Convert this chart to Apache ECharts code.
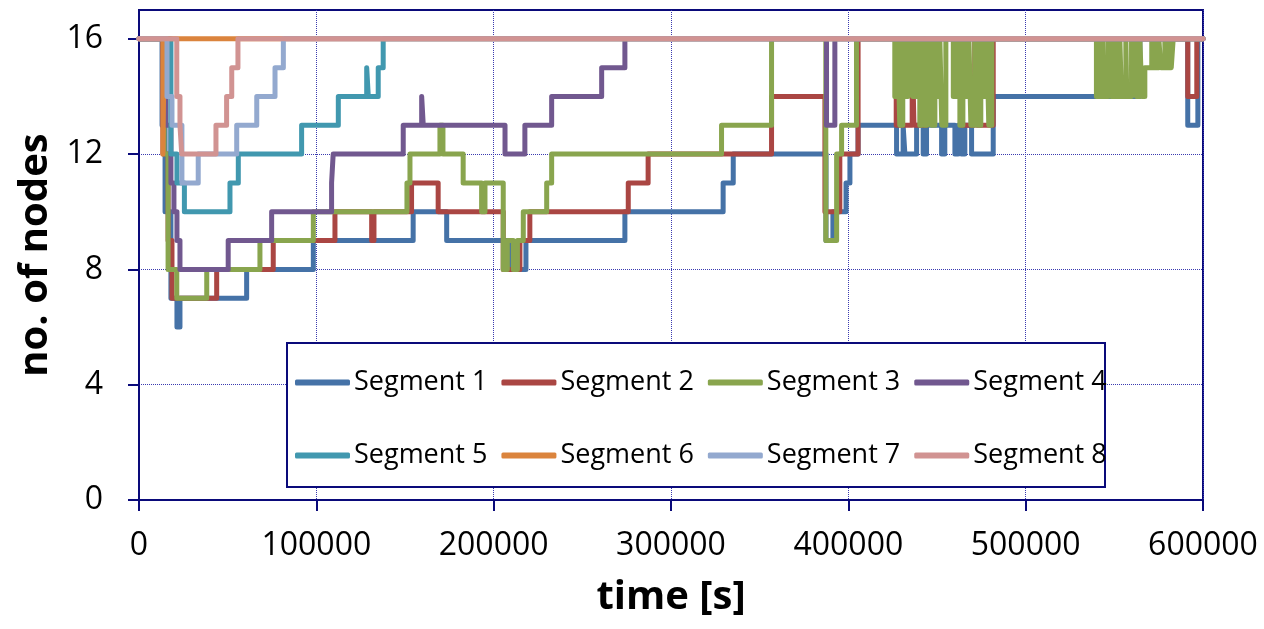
<!DOCTYPE html>
<html>
<head>
<meta charset="utf-8">
<script src="https://cdn.jsdelivr.net/npm/echarts@6/dist/echarts.min.js"></script>
<style>
  html, body { margin: 0; padding: 0; background: #fff; }
  #chart { width: 1264px; height: 629px; }
</style>
</head>
<body>
<div id="chart"></div>
<script>
// step data: [time (s), no. of nodes] - value holds until the next point
var seg1 = [[0,16],[13000,13],[14700,10],[18000,7],[21400,6],[23100,7],[60700,8],[98300,9],[154600,10],[173500,9],
  [209200,8],[218200,9],[274000,10],[329400,11],[335100,12],[387400,9],[391300,10],[398700,11],[400900,12],[405500,13],
  [427200,12],[430900,13],[431900,12],[438500,13],[442200,12],[444100,13],[452600,12],[454400,13],[460100,12],[461900,13],
  [463800,12],[465700,13],[469500,12],[481700,14],[564400,16],[591400,13],[597100,16],[600000,16]];
var seg2 = [[0,16],[13500,12],[16400,9],[18600,7],[43800,8],[75700,9],[110500,10],[131200,9],[132500,10],[153700,11],
  [168700,10],[205400,8],[214800,9],[220400,10],[275900,11],[287100,12],[356700,14],[386800,10],[395200,12],[405500,16],
  [427000,13],[436000,16],[437000,13],[444200,16],[463800,13],[471300,16],[472300,13],[481700,16],[591400,14],[596500,16],[600000,16]];
var seg3 = [[0,16],[14100,12],[16400,8],[21300,7],[38200,8],[68200,9],[98300,10],[151100,11],[152800,12],[169700,13],
  [171400,12],[182800,11],[193200,10],[195100,11],[205400,8],[207700,9],[211100,8],[213400,9],[216700,10],[229900,11],
  [232700,12],[328500,13],[356700,16],[387300,9],[393400,12],[396200,13],[404600,16],
  [426200,14],[427900,16],[429000,13],[430700,16],[432400,14],[433600,16],[436400,14],[438600,16],[440300,13],[441500,16],
  [442600,13],[444300,16],[446900,13],[448800,16],[449900,14],[451600,16],[452700,13],[455000,16],
  [459200,14],[461200,16],[462900,13],[464600,16],[466300,14],[468000,16],[469100,13],[471300,16],[473000,13],[474700,16],
  [476400,14],[478100,16],[479200,13],[480900,16],
  [539900,14],[541300,16],[541800,14],[543500,16],[544100,14],[546500,16],[548400,14],[550300,16],[550800,14],[553100,16],
  [554000,14],[556500,16],[557000,14],[559700,16],[562500,14],[564400,16],[565500,14],[567200,15],[571100,16],[572300,15],
  [575100,16],[576200,15],[578500,16],[579300,15],[581300,16],[582100,15],[583200,16],[600000,16]];
var seg4 = [[0,16],[15200,13],[18000,11],[19700,10],[21400,9],[23100,8],[50300,9],[74800,10],[108600,11],[109500,12],
  [149000,13],[159400,14],[160300,13],[206400,12],[217600,13],[232700,14],[260900,15],[274000,16],[387700,13],[392400,16],[600000,16]];
var seg5 = [[0,16],[18000,12],[21400,11],[25600,10],[51300,11],[56000,12],[91700,13],[112400,14],[128400,15],[129300,14],
  [134900,15],[137700,16],[600000,16]];
var seg6 = [[0,16],[13500,12],[14200,16],[600000,16]];
var seg7 = [[0,16],[15800,14],[18600,13],[24200,11],[33400,12],[55100,13],[66400,14],[76700,15],[81400,16],[600000,16]];
var seg8 = [[0,16],[21300,14],[23100,13],[24100,12],[43400,13],[49400,14],[52300,15],[55800,16],[600000,16]];

var segNames = ['Segment 1','Segment 2','Segment 3','Segment 4','Segment 5','Segment 6','Segment 7','Segment 8'];
var segData = [seg1, seg2, seg3, seg4, seg5, seg6, seg7, seg8];
var colors = ['#4572A7','#AA4643','#89A54E','#71588F','#4198AF','#DB843D','#93A9CF','#D19392'];
var yTicks = [0, 4, 8, 12, 16];

var navy = '#0a0a7a';
var font = 'Open Sans';

var chart = echarts.init(document.getElementById('chart'));

var legendCommon = {
  left: 290,
  itemWidth: 55,
  itemHeight: 6,
  itemGap: 14,
  icon: 'roundRect',
  textStyle: { fontFamily: font, fontSize: 27, color: '#000', padding: [0, 0, 0, -1] }
};

var option = {
  animation: false,
  color: colors,
  grid: {
    left: 139, right: 61, top: 10, bottom: 129,
    show: true, borderColor: navy, borderWidth: 2
  },
  graphic: [{
    type: 'rect', z: 3,
    shape: { x: 287, y: 343, width: 818, height: 144 },
    style: { fill: '#fff', stroke: navy, lineWidth: 2 }
  }],
  legend: [
    Object.assign({ top: 364, data: segNames.slice(0, 4) }, legendCommon),
    Object.assign({ top: 437, data: segNames.slice(4) }, legendCommon)
  ],
  xAxis: {
    type: 'value', min: 0, max: 600000, interval: 100000,
    name: 'time [s]', nameLocation: 'middle', nameGap: 78,
    nameTextStyle: { fontFamily: font, fontSize: 40, fontWeight: 'bold', color: '#000' },
    axisLine: { lineStyle: { color: navy, width: 2 } },
    axisTick: { show: true, length: 11, lineStyle: { color: navy, width: 2 } },
    axisLabel: { fontFamily: font, fontSize: 32, color: '#000', margin: 30,
      formatter: function (v) { return String(v); } },
    splitLine: { show: true, lineStyle: { color: '#3a3ab0', type: 'dotted', width: 1 } }
  },
  yAxis: {
    type: 'value', min: 0, max: 17, interval: 4,
    name: 'no. of nodes', nameLocation: 'middle', nameGap: 80,
    nameTextStyle: { fontFamily: font, fontSize: 40, fontWeight: 'bold', color: '#000' },
    axisLine: { show: true, lineStyle: { color: navy, width: 2 } },
    axisTick: { show: true, length: 11, customValues: yTicks, lineStyle: { color: navy, width: 2 } },
    axisLabel: { fontFamily: font, fontSize: 32, color: '#000', margin: 36, customValues: yTicks },
    splitLine: { show: true, lineStyle: { color: '#3a3ab0', type: 'dotted', width: 1 } }
  },
  series: segData.map(function (d, i) {
    return {
      name: segNames[i],
      type: 'line',
      step: 'end',
      data: d,
      showSymbol: false,
      symbol: 'none',
      clip: false,
      lineStyle: { width: 5, join: 'round', cap: 'round' }
    };
  })
};

chart.setOption(option);
</script>
</body>
</html>
